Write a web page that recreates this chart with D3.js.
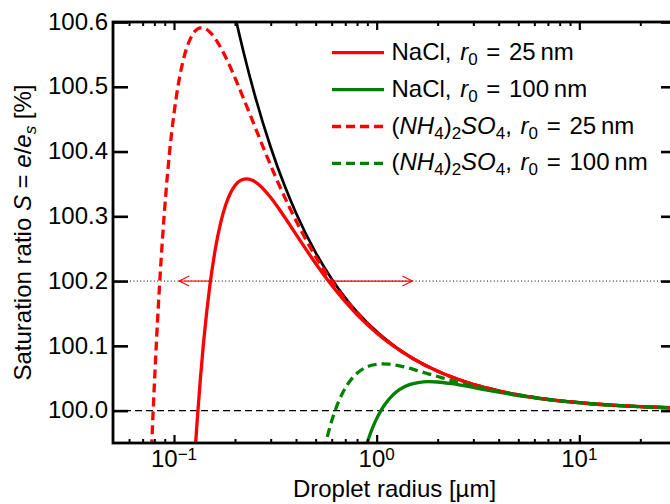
<!DOCTYPE html>
<html>
<head>
<meta charset="utf-8">
<script src="https://cdn.jsdelivr.net/npm/d3@7"></script>
<style>
  body { margin: 0; background: #fff; }
  svg { display: block; }
  text { font-family: "Liberation Sans", Arial, Helvetica, sans-serif; fill: #000; }
</style>
</head>
<body>
<svg id="chart" width="670" height="504"></svg>
<script>
// Köhler curves: equilibrium saturation ratio over a solution droplet.
// Values are supersaturation S - 100 (%) against droplet radius (µm).

const kelvinRadius = [0.195, 0.2033, 0.22, 0.25, 0.3, 0.35, 0.4, 0.5, 0.6, 0.7, 0.8, 1.0, 1.2, 1.5, 2, 2.5, 3, 4, 5, 7, 10, 15, 20, 30];
const kelvinExcess = [0.6256, 0.600, 0.5545, 0.488, 0.4067, 0.3486, 0.305, 0.244, 0.2033, 0.1743, 0.1525, 0.122, 0.1017, 0.0813, 0.061, 0.0488, 0.0407, 0.0305, 0.0244, 0.0174, 0.0122, 0.0081, 0.0061, 0.0041];

const naclSmallRadius = [0.127, 0.13, 0.135, 0.14, 0.145, 0.15, 0.16, 0.17, 0.18, 0.19, 0.2, 0.215, 0.23, 0.245, 0.26, 0.28, 0.3, 0.33, 0.36, 0.4, 0.45, 0.5, 0.6, 0.7, 0.8, 1.0, 1.2, 1.5, 2, 3, 4, 5, 7, 10, 15, 20, 30];
const naclSmallExcess = [-0.0646, -0.0174, 0.0502, 0.1061, 0.1525, 0.1911, 0.2498, 0.2902, 0.3177, 0.3359, 0.3475, 0.3561, 0.3578, 0.3552, 0.3498, 0.3401, 0.3289, 0.3113, 0.2939, 0.2722, 0.2481, 0.2272, 0.1936, 0.1682, 0.1484, 0.1199, 0.1005, 0.0807, 0.0607, 0.0406, 0.0305, 0.0244, 0.0174, 0.0122, 0.0081, 0.0061, 0.0041];

const naclLargeRadius = [0.885, 0.92, 0.95, 1.0, 1.05, 1.1, 1.2, 1.3, 1.45, 1.6, 1.8, 2.0, 2.3, 2.7, 3.2, 4, 5, 6.5, 8.5, 11, 15, 20, 30];
const naclLargeExcess = [-0.056, -0.04, -0.0283, -0.0124, 0.0001, 0.0099, 0.0239, 0.0327, 0.0401, 0.0434, 0.0447, 0.0442, 0.042, 0.0384, 0.034, 0.0284, 0.0233, 0.0183, 0.0141, 0.011, 0.0081, 0.0061, 0.0041];

const amsuSmallRadius = [0.0775, 0.079, 0.081, 0.083, 0.085, 0.088, 0.091, 0.095, 0.1, 0.105, 0.11, 0.115, 0.12, 0.127, 0.135, 0.143, 0.152, 0.165, 0.18, 0.2, 0.22, 0.25, 0.28, 0.32, 0.37, 0.43, 0.5, 0.6, 0.7, 0.85, 1.0, 1.3, 1.7, 2.2, 3, 4, 5, 7, 10, 15, 20, 30];
const amsuSmallExcess = [-0.0585, 0.0029, 0.0761, 0.1407, 0.1978, 0.2711, 0.3321, 0.3978, 0.4585, 0.5035, 0.5355, 0.558, 0.5732, 0.5858, 0.5908, 0.5895, 0.5828, 0.5675, 0.5455, 0.5138, 0.4825, 0.4394, 0.4011, 0.3581, 0.3147, 0.2742, 0.2379, 0.1998, 0.1721, 0.1423, 0.1212, 0.0935, 0.0716, 0.0553, 0.0406, 0.0305, 0.0244, 0.0174, 0.0122, 0.0081, 0.0061, 0.0041];

const amsuLargeRadius = [0.55, 0.565, 0.58, 0.6, 0.62, 0.65, 0.684, 0.72, 0.767, 0.82, 0.893, 0.97, 1.06, 1.15, 1.23, 1.33, 1.43, 1.6, 1.8, 2.0, 2.3, 2.7, 3.2, 4, 5, 6.5, 8.5, 11, 15, 20, 30];
const amsuLargeExcess = [-0.0617, -0.0459, -0.032, -0.0159, -0.0023, 0.0144, 0.0291, 0.0409, 0.052, 0.0604, 0.0673, 0.0708, 0.0721, 0.0717, 0.0705, 0.0684, 0.066, 0.0614, 0.0568, 0.0527, 0.0472, 0.0413, 0.0357, 0.0293, 0.024, 0.0186, 0.0143, 0.0111, 0.0081, 0.0061, 0.0041];

// horizontal guide levels and the activation arrows at S = 100.2 %
const zeroLevel = 0.0;
const arrowLevel = 0.2;
const arrowFrom = [0.151, 0.576];
const arrowTo = [0.106, 1.5];

const yTicks = [100.0, 100.1, 100.2, 100.3, 100.4, 100.5, 100.6];
const xMajorTicks = [0.1, 1, 10];
const xMajorExponents = ["\u22121", "0", "1"];
const xMinorTicks = [0.06, 0.07, 0.08, 0.09, 0.2, 0.3, 0.4, 0.5, 0.6, 0.7, 0.8, 0.9, 2, 3, 4, 5, 6, 7, 8, 9, 20];

const seriesColors = ["#ff0000", "#008000", "#ff0000", "#008000"];

const svg = d3.select("#chart");
svg.append("rect").attr("width", 670).attr("height", 504).attr("fill", "#fff");

const plot = { left: 113, right: 676, top: 22, bottom: 443 };
const x = d3.scaleLog().domain([0.05, 30]).range([plot.left, plot.right]);
const y = d3.scaleLinear().domain([99.95, 100.6]).range([plot.bottom, plot.top]);

svg.append("defs").append("clipPath").attr("id", "plotClip")
  .append("rect")
  .attr("x", plot.left).attr("y", plot.top)
  .attr("width", plot.right - plot.left).attr("height", plot.bottom - plot.top);

const inner = svg.append("g").attr("clip-path", "url(#plotClip)");

// reference lines
inner.append("line")
  .attr("x1", plot.left).attr("x2", plot.right)
  .attr("y1", y(100 + zeroLevel)).attr("y2", y(100 + zeroLevel))
  .attr("stroke", "#000").attr("stroke-width", 1.2).attr("stroke-dasharray", "7,4");
inner.append("line")
  .attr("x1", plot.left).attr("x2", plot.right)
  .attr("y1", y(100 + arrowLevel)).attr("y2", y(100 + arrowLevel))
  .attr("stroke", "#000").attr("stroke-width", 1).attr("stroke-dasharray", "1,2.4");

const line = d3.line()
  .x(d => x(d[0]))
  .y(d => y(100 + d[1]))
  .curve(d3.curveMonotoneX);

const zip = (a, b) => a.map((v, i) => [v, b[i]]);

// pure-water (Kelvin) curve underneath
inner.append("path")
  .attr("d", line(zip(kelvinRadius, kelvinExcess)))
  .attr("fill", "none").attr("stroke", "#000").attr("stroke-width", 2.7);

const series = [
  { r: naclSmallRadius, s: naclSmallExcess, color: seriesColors[0], dash: null },
  { r: naclLargeRadius, s: naclLargeExcess, color: seriesColors[1], dash: null },
  { r: amsuSmallRadius, s: amsuSmallExcess, color: seriesColors[2], dash: "9,5" },
  { r: amsuLargeRadius, s: amsuLargeExcess, color: seriesColors[3], dash: "9,5" }
];

series.forEach(sr => {
  inner.append("path")
    .attr("d", line(zip(sr.r, sr.s)))
    .attr("fill", "none")
    .attr("stroke", sr.color)
    .attr("stroke-width", 3.3)
    .attr("stroke-dasharray", sr.dash);
});

// arrows along S = 100.2 %
arrowFrom.forEach((r0, i) => {
  const x0 = x(r0), x1 = x(arrowTo[i]), yy = y(100 + arrowLevel);
  const dir = Math.sign(x1 - x0);
  svg.append("line")
    .attr("x1", x0).attr("x2", x1).attr("y1", yy).attr("y2", yy)
    .attr("stroke", "#ff0000").attr("stroke-width", 1.1);
  svg.append("path")
    .attr("d", `M${x1 - dir * 10},${yy - 5}L${x1},${yy}L${x1 - dir * 10},${yy + 5}`)
    .attr("fill", "none").attr("stroke", "#ff0000").attr("stroke-width", 1.1);
});

// axes with inward ticks
function styleAxis(g, width) {
  g.select(".domain").remove();
  g.selectAll(".tick line").attr("stroke", "#000").attr("stroke-width", width);
}

svg.append("g").attr("transform", `translate(0,${plot.bottom})`)
  .call(d3.axisBottom(x).tickValues(xMajorTicks).tickSize(-8).tickFormat(""))
  .call(g => styleAxis(g, 2.2));
svg.append("g").attr("transform", `translate(0,${plot.bottom})`)
  .call(d3.axisBottom(x).tickValues(xMinorTicks).tickSize(-4).tickFormat(""))
  .call(g => styleAxis(g, 2));
svg.append("g").attr("transform", `translate(0,${plot.top})`)
  .call(d3.axisTop(x).tickValues(xMajorTicks).tickSize(-8).tickFormat(""))
  .call(g => styleAxis(g, 2.2));
svg.append("g").attr("transform", `translate(0,${plot.top})`)
  .call(d3.axisTop(x).tickValues(xMinorTicks).tickSize(-4).tickFormat(""))
  .call(g => styleAxis(g, 2));

const yAxisLeft = svg.append("g").attr("transform", `translate(${plot.left},0)`)
  .call(d3.axisLeft(y).tickValues(yTicks).tickSize(-15).tickPadding(5).tickFormat(d => d.toFixed(1)))
  .call(g => styleAxis(g, 2.6));
yAxisLeft.attr("font-size", null).attr("font-family", null);
yAxisLeft.selectAll(".tick text")
  .attr("font-size", 24).attr("fill", "#000").attr("dy", "0.3em");

svg.append("g").attr("transform", `translate(${plot.right},0)`)
  .call(d3.axisRight(y).tickValues(yTicks).tickSize(-15).tickFormat(""))
  .call(g => styleAxis(g, 2.6));

// x tick labels as powers of ten
xMajorTicks.forEach((v, i) => {
  const t = svg.append("text")
    .attr("x", x(v)).attr("y", 467)
    .attr("text-anchor", "middle").attr("font-size", 24);
  t.append("tspan").text("10");
  t.append("tspan").attr("dy", -7).attr("font-size", 17).text(xMajorExponents[i]);
});

// frame
svg.append("rect")
  .attr("x", plot.left).attr("y", plot.top)
  .attr("width", plot.right - plot.left).attr("height", plot.bottom - plot.top)
  .attr("fill", "none").attr("stroke", "#000").attr("stroke-width", 2.8);

// axis titles
svg.append("text")
  .attr("x", (plot.left + plot.right) / 2).attr("y", 497)
  .attr("text-anchor", "middle").attr("font-size", 24)
  .text("Droplet radius [\u00b5m]");

const yl = svg.append("text")
  .attr("transform", `translate(31,${(plot.top + plot.bottom) / 2}) rotate(-90)`)
  .attr("text-anchor", "middle").attr("font-size", 24);
yl.append("tspan").text("Saturation ratio ");
yl.append("tspan").attr("font-style", "italic").text("S");
yl.append("tspan").text(" = ");
yl.append("tspan").attr("font-style", "italic").text("e");
yl.append("tspan").text("/");
yl.append("tspan").attr("font-style", "italic").text("e");
yl.append("tspan").attr("font-style", "italic").attr("font-size", 17).attr("dy", 5).text("s");
yl.append("tspan").attr("dy", -5).text(" [%]");

// legend
const legendEntries = [
  [["NaCl, ", 0], ["r", 1], ["0", 2], [" = 25\u2009nm", 0]],
  [["NaCl, ", 0], ["r", 1], ["0", 2], [" = 100\u2009nm", 0]],
  [["(", 0], ["NH", 1], ["4", 2], [")", 0], ["2", 2], ["SO", 1], ["4", 2], [", ", 0], ["r", 1], ["0", 2], [" = 25\u2009nm", 0]],
  [["(", 0], ["NH", 1], ["4", 2], [")", 0], ["2", 2], ["SO", 1], ["4", 2], [", ", 0], ["r", 1], ["0", 2], [" = 100\u2009nm", 0]]
];
const legendDash = [null, null, "9,5", "9,5"];

legendEntries.forEach((parts, i) => {
  const ly = 52.7 + i * 36.9;
  svg.append("line")
    .attr("x1", 332).attr("x2", 384).attr("y1", ly).attr("y2", ly)
    .attr("stroke", seriesColors[i]).attr("stroke-width", 3.3)
    .attr("stroke-dasharray", legendDash[i]);
  const t = svg.append("text").attr("x", 391.5).attr("y", ly + 7)
    .attr("font-size", 24).attr("word-spacing", 2);
  let lowered = false;
  parts.forEach(([str, kind]) => {
    const ts = t.append("tspan").text(str);
    if (kind === 1) ts.attr("font-style", "italic");
    if (kind === 2) {
      ts.attr("font-size", 17).attr("dy", lowered ? 0 : 5);
      lowered = true;
    } else if (lowered) {
      ts.attr("dy", -5);
      lowered = false;
    }
  });
});
</script>
</body>
</html>
